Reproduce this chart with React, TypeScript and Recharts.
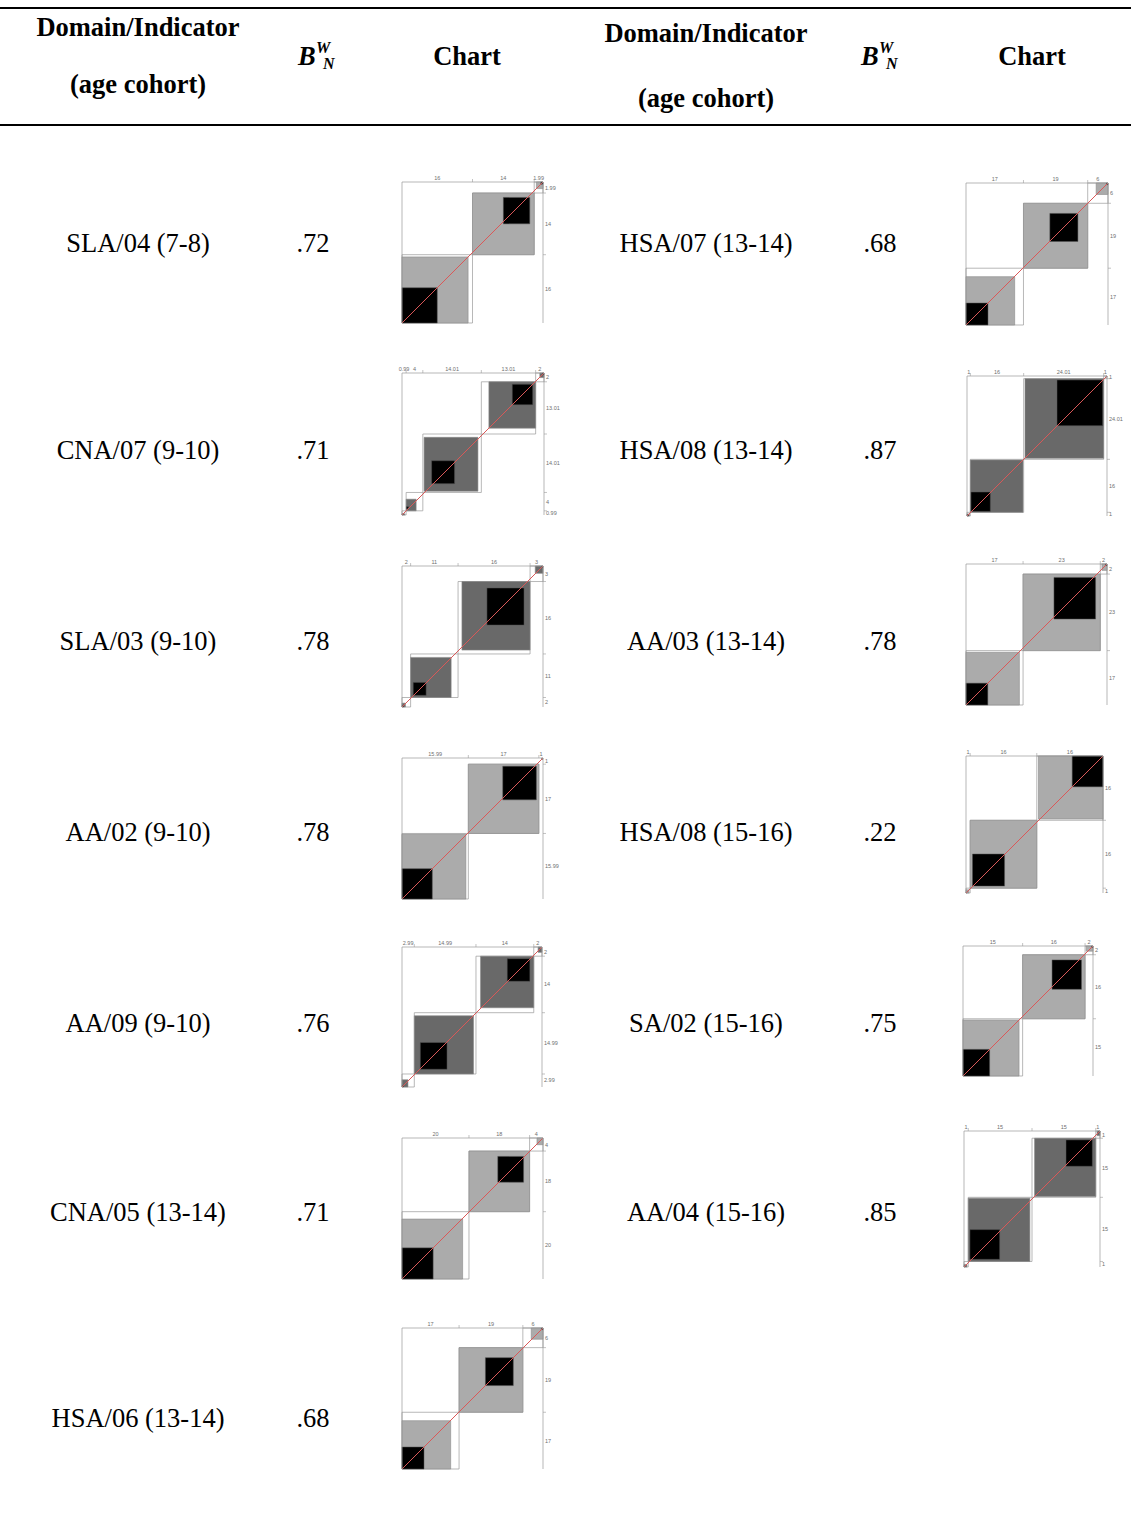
import React from 'react';
import { ComposedChart, Line, XAxis, YAxis, ReferenceArea } from 'recharts';

// agreement tables: row i = first rater category i, column j = second rater category j
// categories run from the bottom-left to the top-right of each chart
const sla04_7_8 = [[8, 7, 1], [7, 6, 1], [0.5, 1, 0.5]];
const cna07_9_10 = [
  [0.2, 0.49, 0.3, 0, 0],
  [0.1, 0.5, 1.8, 1.4, 0.2],
  [0.3, 1.8, 5.5, 5.6, 0.81],
  [0.4, 1.41, 5.6, 4.9, 0.7],
  [0, 0.2, 0.8, 0.6, 0.4],
];
const sla03_9_10 = [[0.3, 0.5, 0.9, 0.3], [0.6, 3.0, 5.8, 1.6], [0.9, 5.8, 8.6, 1.4], [0.4, 0.8, 1.5, 0.3]];
const aa02_9_10 = [[7.3, 8.1, 0.59], [8.3, 8.1, 0.6], [0.2, 0.5, 0.3]];
const aa09_9_10 = [[0.3, 1.15, 1.2, 0.34], [1.46, 6.5, 6.44, 0.59], [1.1, 6.5, 5.5, 0.95], [0.3, 0.75, 0.6, 0.35]];
const cna05_13_14 = [[9.3, 8.8, 1.9], [8.6, 7.7, 1.8], [2.2, 1.6, 0.2]];
const hsa06_13_14 = [[6.55, 7.95, 2.5], [7.85, 8.3, 2.85], [2.5, 3.0, 0.5]];
const hsa07_13_14 = [[6.5, 7.9, 2.6], [7.8, 8.3, 2.9], [2.5, 3.0, 0.5]];
const hsa08_13_14 = [[0.4, 0.3, 0.3, 0], [0.2, 5.8, 9.8, 0.2], [0.4, 9.6, 13.7, 0.3], [0.1, 0.2, 0.4, 0.3]];
const aa03_13_14 = [[6.5, 9.4, 1.1], [9.2, 12.4, 1.4], [0.5, 1.0, 0.5]];
const hsa08_15_16 = [[0.2, 0.5, 0.3], [0.56, 7.7, 7.74], [0.4, 8.1, 7.4]];
const sa02_15_16 = [[6.7, 7.4, 0.9], [7.4, 7.4, 0.9], [0.3, 1.3, 0.4]];
const aa04_15_16 = [[0.2, 0.5, 0.2, 0.1], [0.4, 7, 7.1, 0.5], [0.6, 7.4, 6.2, 0.8], [0.1, 0.2, 0.4, 0.3]];

// marginal labels printed on the top and right axes (category order)
const sla04_7_8_top = ['16', '14', '1.99'];
const cna07_9_10_top = ['0.99', '4', '14.01', '13.01', '2'];
const sla03_9_10_top = ['2', '11', '16', '3'];
const aa02_9_10_top = ['15.99', '17', '1'];
const aa09_9_10_top = ['2.99', '14.99', '14', '2'];
const cna05_13_14_top = ['20', '18', '4'];
const hsa06_13_14_top = ['17', '19', '6'];
const hsa07_13_14_top = ['17', '19', '6'];
const hsa08_13_14_top = ['1', '16', '24.01', '1'];
const aa03_13_14_top = ['17', '23', '2'];
const hsa08_15_16_top = ['1', '16', '16'];
const sa02_15_16_top = ['15', '16', '2'];
const aa04_15_16_top = ['1', '15', '15', '1'];

const levelNames = ['c1', 'c2', 'c3', 'c4', 'c5'];

const leftNames = ['SLA/04 (7-8)', 'CNA/07 (9-10)', 'SLA/03 (9-10)', 'AA/02 (9-10)', 'AA/09 (9-10)', 'CNA/05 (13-14)', 'HSA/06 (13-14)'];
const leftKappa = ['.72', '.71', '.78', '.78', '.76', '.71', '.68'];
const leftTables = [sla04_7_8, cna07_9_10, sla03_9_10, aa02_9_10, aa09_9_10, cna05_13_14, hsa06_13_14];
const leftTops = [sla04_7_8_top, cna07_9_10_top, sla03_9_10_top, aa02_9_10_top, aa09_9_10_top, cna05_13_14_top, hsa06_13_14_top];
const leftDark = [false, true, true, false, true, false, false];

const rightNames = ['HSA/07 (13-14)', 'HSA/08 (13-14)', 'AA/03 (13-14)', 'HSA/08 (15-16)', 'SA/02 (15-16)', 'AA/04 (15-16)'];
const rightKappa = ['.68', '.87', '.78', '.22', '.75', '.85'];
const rightTables = [hsa07_13_14, hsa08_13_14, aa03_13_14, hsa08_15_16, sa02_15_16, aa04_15_16];
const rightTops = [hsa07_13_14_top, hsa08_13_14_top, aa03_13_14_top, hsa08_15_16_top, sa02_15_16_top, aa04_15_16_top];
const rightDark = [false, true, false, false, false, true];

// page layout: plot left, plot top, plot size
const rowY = [243, 450, 641, 832, 1023, 1212, 1418];
const leftPlots = [
  [402, 182, 141], [402, 373, 142], [402, 566, 141], [402, 758, 141],
  [402, 947, 140], [402, 1138, 141], [402, 1328, 141],
];
const rightPlots = [
  [966, 183, 142], [967, 376, 140], [966, 564, 141], [966, 756, 137],
  [963, 946, 130], [964, 1131, 136],
];

const FRAME = '#9a9a9a';
const LABEL = '#6f6f6f';

type ChartProps = { m: number[][]; top: string[]; dark: boolean; size: number };

function AgreementChart({ m, top, dark, size }: ChartProps) {
  const k = m.length;
  const rowSum = m.map((r) => r.reduce((a, b) => a + b, 0));
  const colSum = m[0].map((_, j) => m.reduce((a, r) => a + r[j], 0));
  const n = rowSum.reduce((a, b) => a + b, 0);
  const X: number[] = [];
  const Y: number[] = [];
  let cx = 0;
  let cy = 0;
  for (let i = 0; i < k; i++) {
    X.push(cx);
    Y.push(cy);
    cx += rowSum[i];
    cy += colSum[i];
  }
  const rs = (i: number, a: number, b: number) => {
    let s = 0;
    for (let j = Math.max(a, 0); j < Math.min(b, k); j++) s += m[i][j];
    return s;
  };
  const cs = (i: number, a: number, b: number) => {
    let s = 0;
    for (let j = Math.max(a, 0); j < Math.min(b, k); j++) s += m[j][i];
    return s;
  };

  const xMid = X.map((x, i) => x + rowSum[i] / 2);
  const yMid = Y.map((y, i) => y + colSum[i] / 2);
  const topMap = new Map<number, string>(xMid.map((v, i) => [v, top[i]]));
  const sideMap = new Map<number, string>(yMid.map((v, i) => [v, top[i]]));
  const nameMap = new Map<number, string>(yMid.map((v, i) => [v, levelNames[i]]));
  const diag = [{ x: 0, y: 0 }, { x: n, y: n }];
  const shade = dark ? '#696969' : '#ababab';

  const cells = m.map((_, i) => ({
    white: [X[i], X[i] + rowSum[i], Y[i], Y[i] + colSum[i]],
    gray: [
      X[i] + rs(i, 0, i - 1),
      X[i] + rs(i, 0, i - 1) + rs(i, i - 1, i + 2),
      Y[i] + cs(i, 0, i - 1),
      Y[i] + cs(i, 0, i - 1) + cs(i, i - 1, i + 2),
    ],
    black: [
      X[i] + rs(i, 0, i),
      X[i] + rs(i, 0, i) + m[i][i],
      Y[i] + cs(i, 0, i),
      Y[i] + cs(i, 0, i) + m[i][i],
    ],
  }));

  const font = 'Liberation Sans, Arial, sans-serif';

  return (
    <ComposedChart width={size + 30} height={size + 16} data={diag} margin={{ top: 4, right: 2, bottom: 2, left: 0 }}>
      <XAxis
        dataKey="x"
        type="number"
        orientation="top"
        domain={[0, n]}
        ticks={[...xMid, ...X.slice(1)]}
        interval={0}
        height={10}
        tickSize={0}
        tickMargin={2}
        tickLine={false}
        axisLine={{ stroke: FRAME, strokeWidth: 0.7 }}
        tick={(p: any) => {
          const lab = topMap.get(p.payload.value);
          if (lab === undefined) {
            return <line x1={p.x} x2={p.x} y1={p.y + 2} y2={p.y - 1} stroke={FRAME} strokeWidth={0.6} />;
          }
          return (
            <text x={p.x} y={p.y} textAnchor="middle" fontSize={5.5} fill={LABEL} fontFamily={font}>
              {lab}
            </text>
          );
        }}
      />
      <YAxis
        type="number"
        orientation="right"
        domain={[0, n]}
        ticks={[...yMid, ...Y.slice(1)]}
        interval={0}
        width={16}
        tickSize={0}
        tickMargin={2}
        tickLine={false}
        axisLine={{ stroke: FRAME, strokeWidth: 0.7 }}
        tick={(p: any) => {
          const lab = sideMap.get(p.payload.value);
          if (lab === undefined) {
            return <line x1={p.x - 2} x2={p.x + 1} y1={p.y} y2={p.y} stroke={FRAME} strokeWidth={0.6} />;
          }
          return (
            <text x={p.x} y={p.y + 2} textAnchor="start" fontSize={5.5} fill={LABEL} fontFamily={font}>
              {lab}
            </text>
          );
        }}
      />
      <YAxis
        yAxisId="left"
        type="number"
        orientation="left"
        domain={[0, n]}
        ticks={yMid}
        interval={0}
        width={12}
        tickSize={0}
        tickMargin={3}
        tickLine={false}
        axisLine={{ stroke: FRAME, strokeWidth: 0.7 }}
        tick={(p: any) => (
          <text
            x={p.x}
            y={p.y}
            textAnchor="middle"
            fontSize={5.5}
            fill={LABEL}
            fontFamily={font}
            transform={`rotate(-90, ${p.x}, ${p.y})`}
          >
            {nameMap.get(p.payload.value)}
          </text>
        )}
      />
      {cells.map((c, i) => (
        <ReferenceArea key={`w${i}`} x1={c.white[0]} x2={c.white[1]} y1={c.white[2]} y2={c.white[3]} fill="#ffffff" fillOpacity={1} stroke={FRAME} strokeWidth={0.7} />
      ))}
      {cells.map((c, i) => (
        <ReferenceArea key={`g${i}`} x1={c.gray[0]} x2={c.gray[1]} y1={c.gray[2]} y2={c.gray[3]} fill={shade} fillOpacity={1} stroke="#8a8a8a" strokeWidth={0.6} />
      ))}
      {cells.map((c, i) => (
        <ReferenceArea key={`b${i}`} x1={c.black[0]} x2={c.black[1]} y1={c.black[2]} y2={c.black[3]} fill="#000000" fillOpacity={1} stroke="#555" strokeWidth={0.5} />
      ))}
      <Line dataKey="y" stroke="#d95858" strokeWidth={1} dot={false} activeDot={false} isAnimationActive={false} />
    </ComposedChart>
  );
}

const serif = '"Liberation Serif", "Times New Roman", serif';

function Centered({ x, y, children, bold }: { x: number; y: number; children: React.ReactNode; bold?: boolean }) {
  return (
    <div
      style={{
        position: 'absolute',
        left: x - 150,
        top: y - 16,
        width: 300,
        height: 32,
        lineHeight: '32px',
        textAlign: 'center',
        fontSize: 26.5,
        fontWeight: bold ? 'bold' : 'normal',
        whiteSpace: 'nowrap',
      }}
    >
      {children}
    </div>
  );
}

function BwN({ x, y }: { x: number; y: number }) {
  return (
    <div style={{ position: 'absolute', left: x, top: y - 16, height: 32, width: 50, fontSize: 26.5, lineHeight: '32px', fontWeight: 'bold', fontStyle: 'italic' }}>
      <span>B</span>
      <span style={{ position: 'absolute', left: 18, top: 1, fontSize: 16, lineHeight: '13px' }}>W</span>
      <span style={{ position: 'absolute', left: 25, top: 17, fontSize: 16, lineHeight: '13px' }}>N</span>
    </div>
  );
}

export default function App() {
  return (
    <div style={{ position: 'absolute', left: 0, top: 0, width: 1131, height: 1519, background: '#fff', fontFamily: serif, color: '#000', overflow: 'hidden' }}>
      <div style={{ position: 'absolute', left: 0, top: 7, width: 1131, height: 1.5, background: '#000' }} />
      <div style={{ position: 'absolute', left: 0, top: 124, width: 1131, height: 1.5, background: '#000' }} />

      <Centered x={138} y={27} bold>Domain/Indicator</Centered>
      <Centered x={138} y={84} bold>(age cohort)</Centered>
      <BwN x={298} y={56} />
      <Centered x={467} y={56} bold>Chart</Centered>
      <Centered x={706} y={33} bold>Domain/Indicator</Centered>
      <Centered x={706} y={98} bold>(age cohort)</Centered>
      <BwN x={861} y={56} />
      <Centered x={1032} y={56} bold>Chart</Centered>

      {leftNames.map((name, i) => (
        <React.Fragment key={`l${i}`}>
          <Centered x={138} y={rowY[i]}>{name}</Centered>
          <Centered x={313} y={rowY[i]}>{leftKappa[i]}</Centered>
          <div style={{ position: 'absolute', left: leftPlots[i][0] - 12, top: leftPlots[i][1] - 14 }}>
            <AgreementChart m={leftTables[i]} top={leftTops[i]} dark={leftDark[i]} size={leftPlots[i][2]} />
          </div>
        </React.Fragment>
      ))}
      {rightNames.map((name, i) => (
        <React.Fragment key={`r${i}`}>
          <Centered x={706} y={rowY[i]}>{name}</Centered>
          <Centered x={880} y={rowY[i]}>{rightKappa[i]}</Centered>
          <div style={{ position: 'absolute', left: rightPlots[i][0] - 12, top: rightPlots[i][1] - 14 }}>
            <AgreementChart m={rightTables[i]} top={rightTops[i]} dark={rightDark[i]} size={rightPlots[i][2]} />
          </div>
        </React.Fragment>
      ))}
    </div>
  );
}
